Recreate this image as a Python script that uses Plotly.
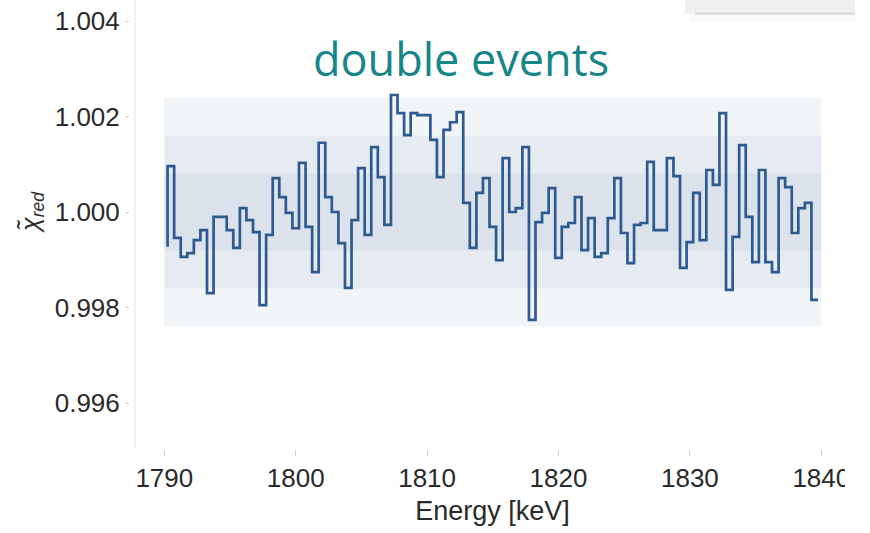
import numpy as np
import plotly.graph_objects as go

# Reduced chi-square per energy bin (0.5 keV bins), double events
energy_start = 1790.25
energy_step = 0.5
chi2_red = [
    0.99927, 1.00096, 0.99946, 0.99906, 0.99914, 0.99941, 0.99962, 0.99830, 0.99990, 0.99990,
    0.99962, 0.99925, 1.00008, 0.99983, 0.99958, 0.99805, 0.99952, 1.00071, 1.00031, 0.99998,
    0.99966, 1.00103, 0.99969, 0.99874, 1.00145, 1.00031, 1.00000, 0.99935, 0.99841, 0.99983,
    1.00092, 0.99952, 1.00136, 1.00073, 0.99973, 1.00245, 1.00207, 1.00161, 1.00207, 1.00203,
    1.00203, 1.00151, 1.00073, 1.00172, 1.00188, 1.00209, 1.00019, 0.99925, 1.00040, 1.00071,
    0.99969, 0.99899, 1.00113, 1.00000, 1.00008, 1.00136, 0.99774, 0.99979, 0.99998, 1.00050,
    0.99904, 0.99969, 0.99977, 1.00031, 0.99920, 0.99987, 0.99906, 0.99914, 0.99987, 1.00071,
    0.99956, 0.99893, 0.99973, 0.99977, 1.00105, 0.99962, 0.99962, 1.00113, 1.00075, 0.99883,
    0.99937, 1.00040, 0.99941, 1.00088, 1.00057, 1.00207, 0.99837, 0.99948, 1.00140, 0.99990,
    0.99895, 1.00088, 0.99895, 0.99874, 1.00071, 1.00052, 0.99956, 1.00008, 1.00019, 0.99816,
]
energy = energy_start + energy_step * np.arange(len(chi2_red))

# Expected spread of chi2_red around 1 (1, 2 and 3 sigma)
band_halfwidths = [0.0024, 0.0016, 0.0008]
band_energy = [1790, 1840]

x_ticks = [1790, 1800, 1810, 1820, 1830, 1840]
y_ticks = [0.996, 0.998, 1.000, 1.002, 1.004]

W, H = 870, 533
L, R, T, B = 130, 15, 0, 84
plot_w = W - L - R
plot_h = H - T - B


def px_x(px):
    return (px - L) / plot_w


def px_y(py):
    return 1 - (py - T) / plot_h


fig = go.Figure()

fig.add_trace(go.Scatter(
    x=energy, y=chi2_red, mode="lines",
    line=dict(shape="vh", color="#2d5a90", width=2.7),
    showlegend=False, hoverinfo="skip",
))

shapes = []
for hw in band_halfwidths:
    shapes.append(dict(
        type="rect", xref="x", yref="y", layer="below",
        x0=band_energy[0], x1=band_energy[1], y0=1 - hw, y1=1 + hw,
        fillcolor="rgba(90,125,170,0.08)", line=dict(width=0),
    ))

# faint left spine
shapes.append(dict(type="line", xref="paper", yref="paper", layer="below",
                   x0=px_x(135), x1=px_x(135), y0=0, y1=1,
                   line=dict(color="#ececec", width=1.5)))

# grey header bar in the top-right corner
shapes.append(dict(type="rect", xref="paper", yref="paper", layer="above",
                   x0=px_x(685), x1=px_x(855), y0=px_y(14), y1=px_y(-2),
                   fillcolor="#efefef", line=dict(width=0)))
shapes.append(dict(type="rect", xref="paper", yref="paper", layer="above",
                   x0=px_x(690), x1=px_x(855), y0=px_y(22), y1=px_y(14),
                   fillcolor="rgba(0,0,0,0.025)", line=dict(width=0)))
shapes.append(dict(type="line", xref="paper", yref="paper", layer="above",
                   x0=px_x(695), x1=px_x(855), y0=px_y(13.5), y1=px_y(13.5),
                   line=dict(color="#d6d6d6", width=2)))

# blank strip along the lower right edge
shapes.append(dict(type="rect", xref="paper", yref="paper", layer="above",
                   x0=px_x(845), x1=px_x(875), y0=px_y(540), y1=px_y(440),
                   fillcolor="white", line=dict(width=0)))

x_left = 1790 + (L - 164.3) / 13.14
x_right = 1790 + (W - R - 164.3) / 13.14
y_top = 1 + (212 - T) / 47750
y_bottom = 1 - (T + plot_h - 212) / 47750

tick_font = dict(family="Liberation Sans, Arial, sans-serif", size=26, color="#2a2a2a")

fig.update_layout(
    width=W, height=H,
    margin=dict(l=L, r=R, t=T, b=B, pad=0),
    paper_bgcolor="white", plot_bgcolor="white",
    shapes=shapes,
    xaxis=dict(
        range=[x_left, x_right], tickvals=x_ticks, ticktext=[str(v) for v in x_ticks],
        ticks="outside", ticklen=6, tickwidth=1, tickcolor="#d0d0d0",
        showgrid=False, zeroline=False, showline=False,
        tickfont=tick_font,
        title=dict(text="Energy [keV]", standoff=8,
                   font=dict(family="Liberation Sans, Arial, sans-serif", size=27, color="#2a2a2a")),
    ),
    yaxis=dict(
        range=[y_bottom, y_top], tickvals=y_ticks, ticktext=[f"{v:.3f}" for v in y_ticks],
        ticks="outside", ticklen=4, tickwidth=1, tickcolor="#d0d0d0",
        showgrid=False, zeroline=False, showline=False,
        tickfont=tick_font,
    ),
    annotations=[
        dict(text="<i>χ̃<sub>red</sub></i>", xref="paper", yref="y",
             x=px_x(32), y=1.0, textangle=-90, showarrow=False,
             xanchor="center", yanchor="middle",
             font=dict(family="Liberation Sans, Arial, sans-serif", size=25, color="#2a2a2a")),
        dict(text="double events", xref="paper", yref="paper",
             x=px_x(461), y=px_y(58), showarrow=False,
             xanchor="center", yanchor="middle",
             font=dict(family="Open Sans, sans-serif", size=45, color="#17868a")),
    ],
)

fig.write_html("out.html")
